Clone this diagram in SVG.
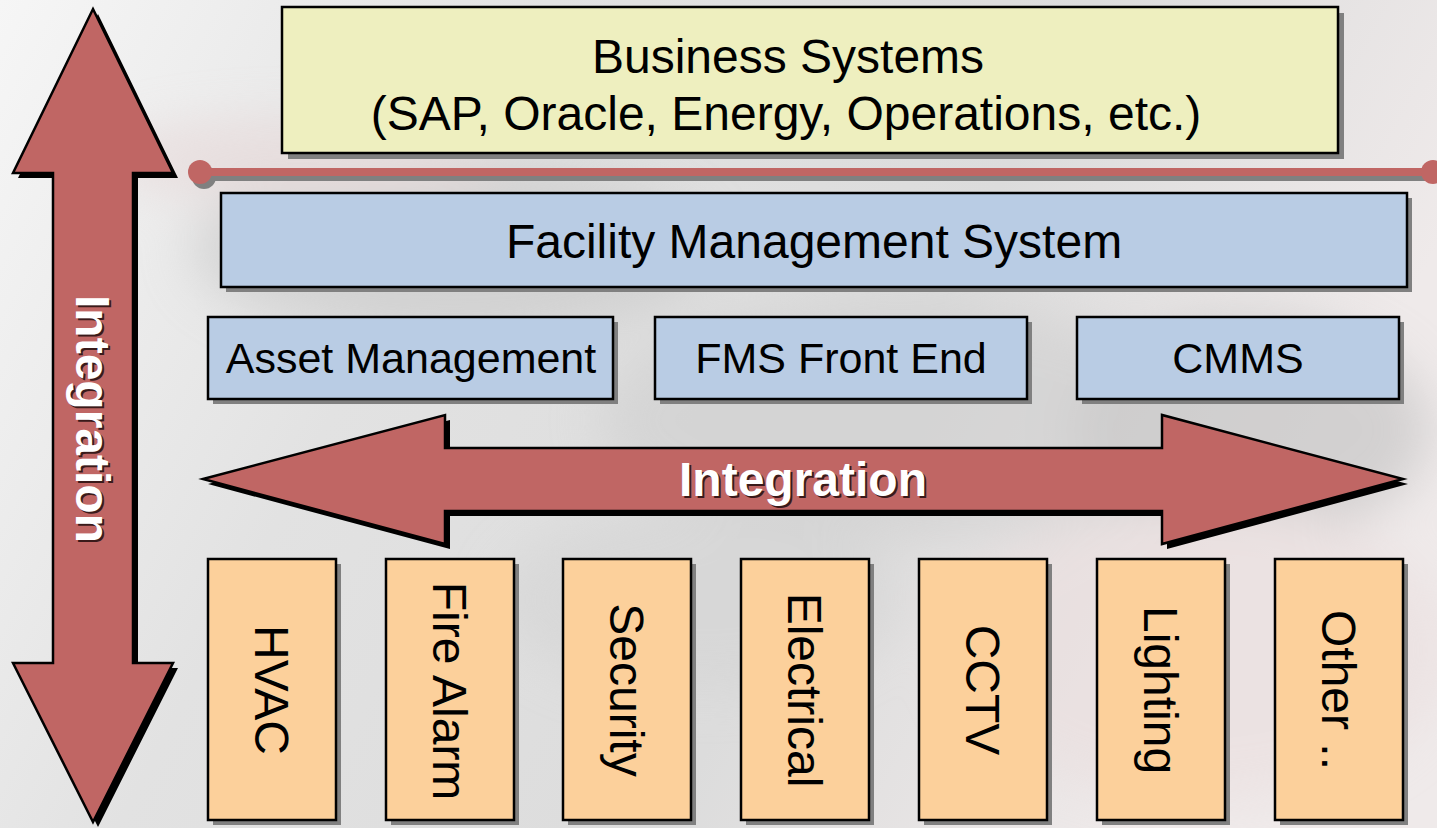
<svg xmlns="http://www.w3.org/2000/svg" width="1437" height="828" viewBox="0 0 1437 828">
<defs>
<linearGradient id="bg" x1="0" y1="0" x2="1" y2="0.3">
<stop offset="0" stop-color="#f6f6f6"/>
<stop offset="0.35" stop-color="#e2e2e2"/>
<stop offset="0.7" stop-color="#dcdcdc"/>
<stop offset="1" stop-color="#efeaea"/>
</linearGradient>
<filter id="blur" x="-20%" y="-20%" width="140%" height="140%"><feGaussianBlur stdDeviation="25"/></filter>
<style>
.box{stroke:#000;stroke-width:2.5}
.sh{fill:#808080}
.yel{fill:#eeefbf}
.blu{fill:#b9cce4}
.org{fill:#fcd09b}
.red{fill:#c06664;stroke:#000;stroke-width:2.5;stroke-linejoin:miter}
.ash{fill:#000}
.t{font-family:"Liberation Sans",Arial,sans-serif;fill:#000;text-anchor:middle}
.it{font-family:"Liberation Sans",Arial,sans-serif;font-weight:bold;font-size:48px;text-anchor:middle}
</style>
</defs>
<rect width="1437" height="828" fill="url(#bg)"/>
<g filter="url(#blur)" opacity="0.6">
<ellipse cx="450" cy="250" rx="260" ry="90" fill="#c8c8c8"/>
<ellipse cx="900" cy="420" rx="300" ry="120" fill="#cfcfcf"/>
<ellipse cx="1250" cy="430" rx="180" ry="110" fill="#c0c0c0"/>
<ellipse cx="300" cy="160" rx="200" ry="40" fill="#e6d6d6"/>
<ellipse cx="1200" cy="650" rx="250" ry="150" fill="#eadede"/>
<ellipse cx="700" cy="600" rx="200" ry="90" fill="#d4d4d4"/>
</g>

<g id="connectors">
<g id="bus-line">
<line x1="204" y1="177" x2="1437" y2="177" stroke="#808080" stroke-width="8"/>
<circle cx="204" cy="177" r="12" fill="#808080"/>
<line x1="200" y1="172" x2="1437" y2="172" stroke="#c06664" stroke-width="8"/>
<circle cx="200" cy="172" r="12" fill="#c06664"/>
<circle cx="1433" cy="172" r="12" fill="#c06664"/>
</g>
<g id="v-arrow">
<polygon class="ash" transform="translate(5,5)" points="93,9 173,173 133,173 133,663 173,663 93,822 13,663 53,663 53,173 13,173"/>
<polygon class="red" points="93,9 173,173 133,173 133,663 173,663 93,822 13,663 53,663 53,173 13,173"/>
<g transform="translate(93,419) rotate(90)">
<text class="it" x="2" y="15" fill="#3a1a1a">Integration</text>
<text class="it" x="0" y="17" fill="#fff">Integration</text>
</g>
</g>
<g id="h-arrow">
<polygon class="ash" transform="translate(5,5)" points="203,479 445,415 445,448 1162,448 1162,415 1403,479 1162,544 1162,511 445,511 445,544"/>
<polygon class="red" points="203,479 445,415 445,448 1162,448 1162,415 1403,479 1162,544 1162,511 445,511 445,544"/>
<text class="it" x="805" y="498" fill="#3a1a1a">Integration</text>
<text class="it" x="803" y="496" fill="#fff">Integration</text>
</g>
</g>

<g id="business-systems">
<rect class="sh" x="288" y="13" width="1056" height="146"/>
<rect class="box yel" x="282" y="7" width="1056" height="146"/>
<text class="t" x="788" y="73" font-size="48">Business Systems</text>
<text class="t" x="786" y="130" font-size="48">(SAP, Oracle, Energy, Operations, etc.)</text>
</g>

<g id="fms">
<rect class="sh" x="226" y="198" width="1186" height="94"/>
<rect class="box blu" x="221" y="193" width="1186" height="94"/>
<text class="t" x="814" y="258" font-size="48">Facility Management System</text>
</g>

<g id="asset-management">
<rect class="sh" x="213" y="322" width="405" height="82"/>
<rect class="box blu" x="208" y="317" width="405" height="82"/>
<text class="t" x="411" y="373" font-size="43">Asset Management</text>
</g>
<g id="fms-front-end">
<rect class="sh" x="660" y="322" width="372" height="82"/>
<rect class="box blu" x="655" y="317" width="372" height="82"/>
<text class="t" x="841" y="373" font-size="43">FMS Front End</text>
</g>
<g id="cmms">
<rect class="sh" x="1082" y="322" width="322" height="82"/>
<rect class="box blu" x="1077" y="317" width="322" height="82"/>
<text class="t" x="1238" y="373" font-size="43">CMMS</text>
</g>

<g id="hvac">
<rect class="sh" x="213" y="564" width="128" height="261"/>
<rect class="box org" x="208" y="559" width="128" height="261"/>
<text class="t" font-size="48" transform="translate(272,690) rotate(90)" y="17">HVAC</text>
</g>
<g id="fire-alarm">
<rect class="sh" x="391" y="564" width="128" height="261"/>
<rect class="box org" x="386" y="559" width="128" height="261"/>
<text class="t" font-size="48" transform="translate(450,691) rotate(90)" y="17">Fire Alarm</text>
</g>
<g id="security">
<rect class="sh" x="568" y="564" width="128" height="261"/>
<rect class="box org" x="563" y="559" width="128" height="261"/>
<text class="t" font-size="48" transform="translate(627,690) rotate(90)" y="17">Security</text>
</g>
<g id="electrical">
<rect class="sh" x="746" y="564" width="128" height="261"/>
<rect class="box org" x="741" y="559" width="128" height="261"/>
<text class="t" font-size="48" transform="translate(805,690) rotate(90)" y="17">Electrical</text>
</g>
<g id="cctv">
<rect class="sh" x="924" y="564" width="128" height="261"/>
<rect class="box org" x="919" y="559" width="128" height="261"/>
<text class="t" font-size="48" transform="translate(983,690) rotate(90)" y="17">CCTV</text>
</g>
<g id="lighting">
<rect class="sh" x="1102" y="564" width="128" height="261"/>
<rect class="box org" x="1097" y="559" width="128" height="261"/>
<text class="t" font-size="48" transform="translate(1161,690) rotate(90)" y="17">Lighting</text>
</g>
<g id="other">
<rect class="sh" x="1280" y="564" width="128" height="261"/>
<rect class="box org" x="1275" y="559" width="128" height="261"/>
<text class="t" font-size="48" transform="translate(1339,690) rotate(90)" y="17">Other ..</text>
</g>
</svg>
